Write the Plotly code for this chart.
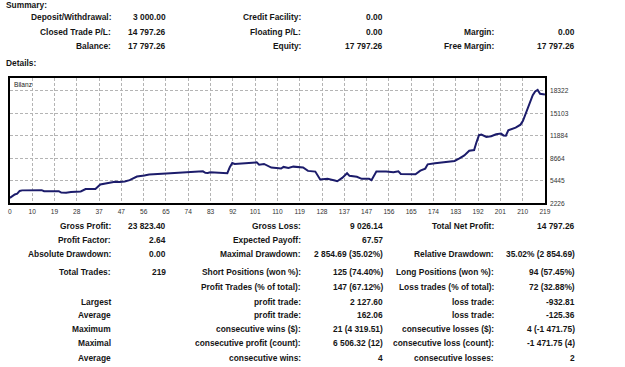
import plotly.graph_objects as go

W, H = 625, 367

# ---------------- data ----------------
trade_no = [0, 1, 2, 3, 4, 5, 7, 13, 14, 20, 21, 23, 25, 29, 31, 35, 37, 39, 42, 43,
            45, 47, 49, 51, 52, 55, 57, 64, 69, 74, 79, 80, 81, 82, 85, 88, 89, 90, 91, 92,
            96, 101, 102, 104, 107, 110, 111, 112, 114, 116, 119, 120, 122, 125, 127, 130, 133, 134, 136, 138,
            139, 142, 144, 146, 147, 148, 150, 154, 157, 159, 160, 166, 168, 170, 171, 174, 178, 182, 184, 186,
            188, 190, 191, 192, 193, 195, 197, 199, 201, 202, 203, 204, 207, 209, 210, 212, 214, 215, 216, 217,
            218, 219]
balance = [3000, 3300, 3500, 3600, 4000, 4080, 4115, 4115, 3970, 3970, 3760, 3750, 3850, 3930, 4260, 4290, 4920, 5020, 5160, 5300,
           5270, 5350, 5540, 5870, 6060, 6200, 6340, 6490, 6580, 6720, 6810, 6600, 6580, 6670, 6580, 6490, 6550, 7400, 8000, 7860,
           8000, 8090, 7760, 7860, 7340, 7300, 7200, 7440, 7300, 7480, 7380, 7350, 6870, 6770, 5630, 5730, 5490, 5390, 5870, 6530,
           6160, 6020, 5730, 5680, 5730, 5540, 6770, 6770, 6670, 6810, 6440, 6390, 6910, 7200, 7810, 7950, 8090, 8290, 8660, 9080,
           9750, 9850, 11000, 11980, 12070, 11740, 11840, 12120, 12210, 11950, 11920, 12690, 13060, 13490, 14050, 15760, 17700, 18250, 18460, 17900,
           17797, 17797]

x_tick_labels = ["0", "10", "19", "28", "37", "47", "56", "65", "74", "83", "92", "101", "110",
                 "119", "128", "137", "147", "156", "165", "174", "183", "192", "201", "210", "219"]
y_tick_values = [2226, 5445, 8664, 11884, 15103, 18322]
y_top = 20120
series_name = "Bilanz"

sum_lab1 = ["Deposit/Withdrawal:", "Closed Trade P/L:", "Balance:"]
sum_val1 = ["3 000.00", "14 797.26", "17 797.26"]
sum_lab2 = ["Credit Facility:", "Floating P/L:", "Equity:"]
sum_val2 = ["0.00", "0.00", "17 797.26"]
sum_lab3 = ["", "Margin:", "Free Margin:"]
sum_val3 = ["", "0.00", "17 797.26"]

det_lab1 = ["Gross Profit:", "Profit Factor:", "Absolute Drawdown:", "Total Trades:", "",
            "Largest", "Average", "Maximum", "Maximal", "Average"]
det_val1 = ["23 823.40", "2.64", "0.00", "219", "", "", "", "", "", ""]
det_lab2 = ["Gross Loss:", "Expected Payoff:", "Maximal Drawdown:", "Short Positions (won %):",
            "Profit Trades (% of total):", "profit trade:", "profit trade:", "consecutive wins ($):",
            "consecutive profit (count):", "consecutive wins:"]
det_val2 = ["9 026.14", "67.57", "2 854.69 (35.02%)", "125 (74.40%)", "147 (67.12%)",
            "2 127.60", "162.06", "21 (4 319.51)", "6 506.32 (12)", "4"]
det_lab3 = ["Total Net Profit:", "", "Relative Drawdown:", "Long Positions (won %):",
            "Loss trades (% of total):", "loss trade:", "loss trade:", "consecutive losses ($):",
            "consecutive loss (count):", "consecutive losses:"]
det_val3 = ["14 797.26", "", "35.02% (2 854.69)", "94 (57.45%)", "72 (32.88%)",
            "-932.81", "-125.36", "4 (-1 471.75)", "-1 471.75 (4)", "2"]

# ---------------- layout helpers ----------------
def px(x):
    return x / W

def py(y):
    return 1 - y / H

TXT_FONT = dict(family="Liberation Sans, Arial, sans-serif", size=8.4, color="#151515", weight="bold")
AX_FONT = dict(family="Liberation Sans, Arial, sans-serif", size=6.6, color="#333333")

col_right = [111, 167, 304, 387, 499, 581]
sum_rows_y = [17, 32, 46]
det_rows_y = [228, 242, 256, 274, 289, 304, 318, 332, 346, 361]

annotations = []

def add_text(text, x, y, anchor="right", font=TXT_FONT):
    if not text:
        return
    annotations.append(dict(text=text, x=px(x), y=py(y), xref="paper", yref="paper",
                            xanchor=anchor, yanchor="middle", showarrow=False,
                            font=font, borderpad=0))

add_text("Summary:", 3, 5, anchor="left")
add_text("Details:", 3, 64, anchor="left")

for cols, ys in (((sum_lab1, sum_val1, sum_lab2, sum_val2, sum_lab3, sum_val3), sum_rows_y),
                 ((det_lab1, det_val1, det_lab2, det_val2, det_lab3, det_val3), det_rows_y)):
    for ci, col in enumerate(cols):
        for ri, txt in enumerate(col):
            add_text(txt, col_right[ci], ys[ri])

add_text(series_name, 11, 85, anchor="left",
         font=dict(family="Liberation Sans, Arial, sans-serif", size=6.6, color="#222222"))

fig = go.Figure()
fig.add_trace(go.Scatter(x=trade_no, y=balance, mode="lines",
                         line=dict(color="#1c1c6b", width=2), hoverinfo="skip", showlegend=False))

n = len(x_tick_labels)
x_max = int(x_tick_labels[-1])
x_tick_vals = [i * x_max / (n - 1) for i in range(n)]

grid = dict(showgrid=True, gridcolor="#b4b4b4", gridwidth=1, griddash="3px,2px",
            showline=True, linecolor="#000000", linewidth=1.5, mirror=True,
            zeroline=False, ticks="", tickfont=AX_FONT, fixedrange=True)

fig.update_layout(
    width=W, height=H,
    margin=dict(l=0, r=0, t=0, b=0),
    paper_bgcolor="white", plot_bgcolor="white",
    showlegend=False,
    xaxis=dict(domain=[px(8), px(550)], range=[0, x_max], tickmode="array",
               tickvals=x_tick_vals, ticktext=x_tick_labels, ticklabelstandoff=1, **grid),
    yaxis=dict(domain=[py(205), py(79)], range=[y_tick_values[0], y_top], side="right",
               tickmode="array", tickvals=y_tick_values,
               ticktext=[str(v) for v in y_tick_values], ticklabelstandoff=2, **grid),
    annotations=annotations,
)

fig.write_html("out.html")
